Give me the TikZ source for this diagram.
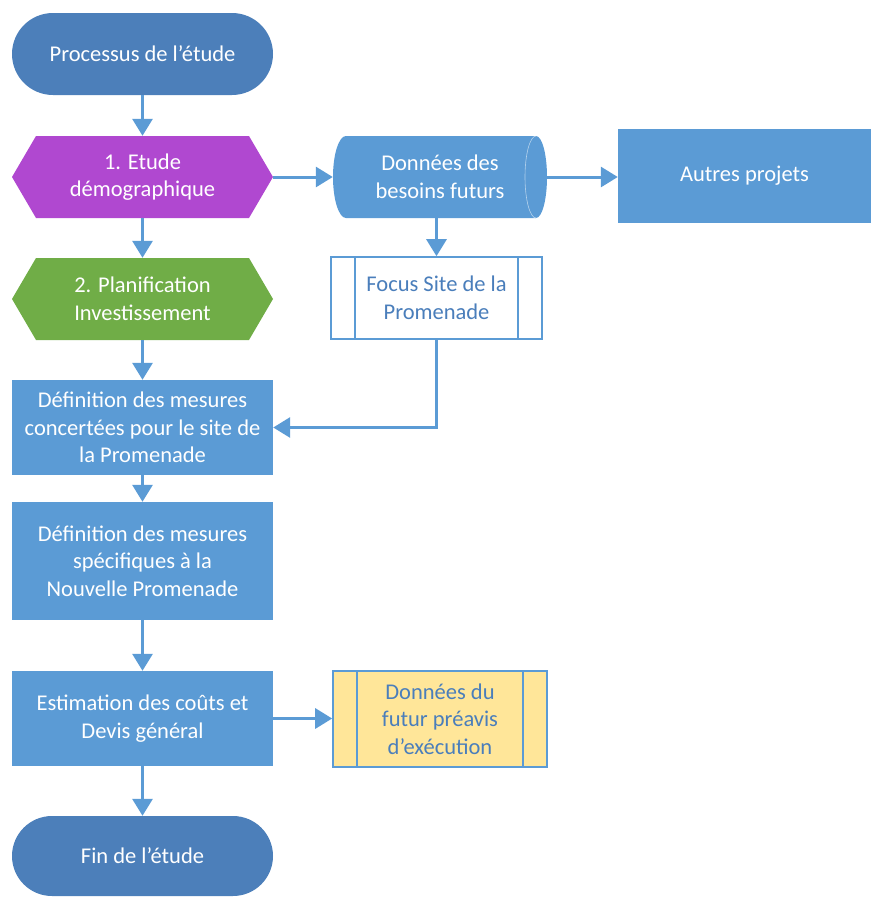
\documentclass[tikz,border=0pt]{standalone}
\usepackage{fontspec}
\setmainfont{Carlito}
\usetikzlibrary{arrows.meta}
\definecolor{lb}{HTML}{5B9BD5}
\definecolor{db}{HTML}{4C7FBA}
\definecolor{pur}{HTML}{B048D0}
\definecolor{grn}{HTML}{70AD47}
\definecolor{yel}{HTML}{FFE699}
\definecolor{tb}{HTML}{4A7EBB}
\begin{document}
\begin{tikzpicture}[x=1pt,y=-1pt,
  font=\fontsize{22.5}{27.5}\selectfont,
  base/.style={align=center, inner sep=0pt, text=white},
  box/.style={base, fill=lb},
  term/.style={base, fill=db, rounded corners=41pt, minimum width=261pt, minimum height=82pt},
  hexa/.style={base, minimum width=261pt, minimum height=82pt,
    path picture={\fill[#1] (path picture bounding box.west)
      -- ([xshift=24pt]path picture bounding box.north west)
      -- ([xshift=-24pt]path picture bounding box.north east)
      -- (path picture bounding box.east)
      -- ([xshift=-24pt]path picture bounding box.south east)
      -- ([xshift=24pt]path picture bounding box.south west) -- cycle;}},
  cyl/.style={base, minimum width=214pt, minimum height=82pt,
    path picture={
      \fill[lb] ([xshift=13pt]path picture bounding box.north west)
        -- ([xshift=-11pt]path picture bounding box.north east)
        arc[start angle=90, end angle=-90, x radius=11pt, y radius=41pt]
        -- ([xshift=13pt]path picture bounding box.south west)
        arc[start angle=-90, end angle=-270, x radius=13pt, y radius=41pt] -- cycle;
      \draw[white!55!lb, line width=0.6pt] ([xshift=-11pt]path picture bounding box.north east)
        arc[start angle=90, end angle=270, x radius=11pt, y radius=41pt];}},
  proc/.style={base, draw=lb, line width=1.6pt, text=tb,
    path picture={
      \draw[lb, line width=1.6pt] ([xshift=24pt]path picture bounding box.north west) -- ([xshift=24pt]path picture bounding box.south west);
      \draw[lb, line width=1.6pt] ([xshift=-24pt]path picture bounding box.north east) -- ([xshift=-24pt]path picture bounding box.south east);}},
  conn/.style={draw=lb, line width=3pt, -{Triangle[length=17pt,width=20pt]}}]
\useasboundingbox (0,0) rectangle (871,897);

\node[term] (start) at (142.5,54) {Processus de l’étude};
\node[hexa=pur] (h1) at (142.5,177) {1. Etude\\démographique};
\node[hexa=grn] (h2) at (142.5,299) {2. Planification\\Investissement};
\node[cyl] (dat) at (440,177) {Données des\\besoins futurs};
\node[box, minimum width=253pt, minimum height=94pt] (aut) at (744.5,175.5) {Autres projets};
\node[proc, fill=white, minimum width=211pt, minimum height=82pt] (foc) at (436.5,298) {Focus Site de la\\Promenade};
\node[box, minimum width=261pt, minimum height=95pt] (d1) at (142.5,427.5) {Définition des mesures\\concertées pour le site de\\la Promenade};
\node[box, minimum width=261pt, minimum height=118pt] (d2) at (142.5,561) {Définition des mesures\\spécifiques à la\\Nouvelle Promenade};
\node[box, minimum width=261pt, minimum height=95pt] (est) at (142.5,718.5) {Estimation des coûts et\\Devis général};
\node[proc, fill=yel, minimum width=214pt, minimum height=96pt] (fut) at (440,719) {Données du\\futur préavis\\d’exécution};
\node[term, minimum height=80pt, rounded corners=40pt] (fin) at (142.5,856) {Fin de l’étude};

\draw[conn] (start) -- (h1);
\draw[conn] (h1) -- (h2);
\draw[conn] (h1.east) -- (dat.west);
\draw[conn] (dat.east) -- (dat.east -| aut.west);
\draw[conn] (foc.north |- dat.south) -- (foc.north);
\draw[conn] (foc.south) |- (d1.east);
\draw[conn] (h2) -- (d1);
\draw[conn] (d1) -- (d2);
\draw[conn] (d2) -- (est);
\draw[conn] (est.east) -- (est.east -| fut.west);
\draw[conn] (est) -- (fin);
\end{tikzpicture}
\end{document}
